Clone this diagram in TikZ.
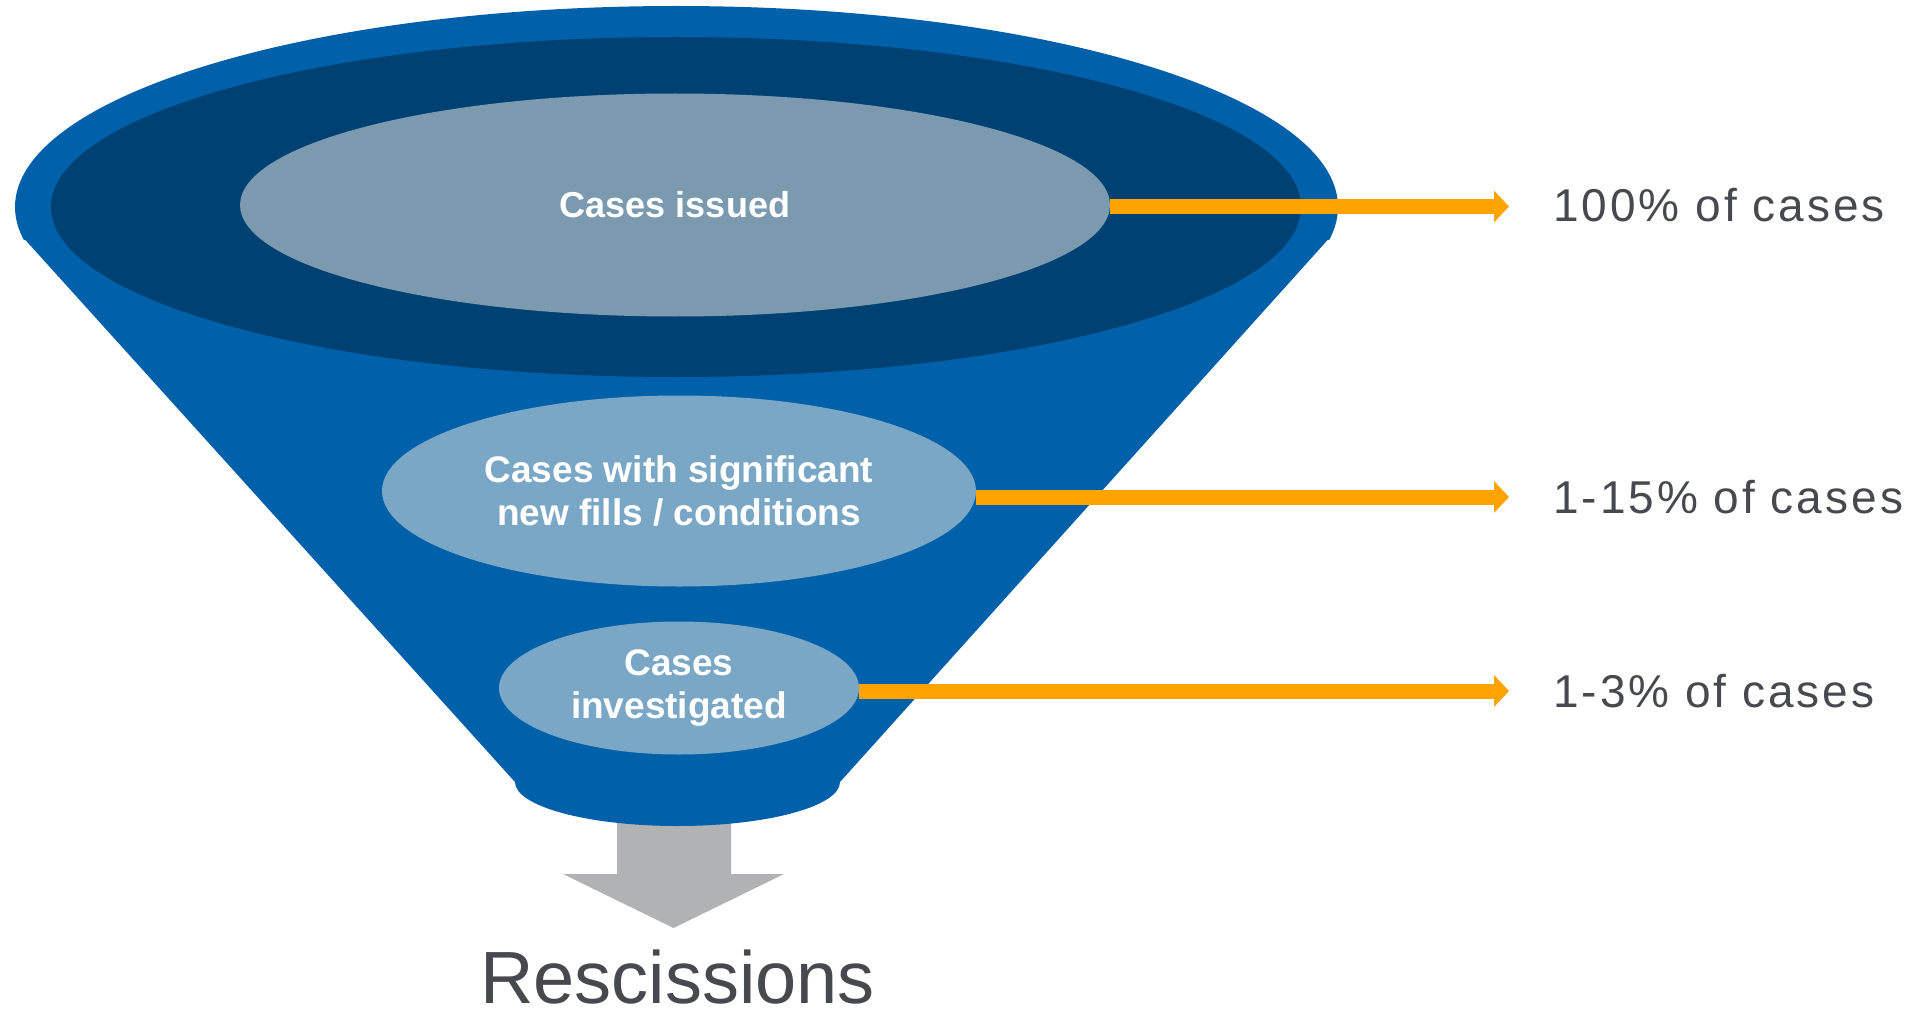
\documentclass[tikz,border=0pt]{standalone}
\usepackage{fontspec}
\setmainfont{Liberation Sans}
\newfontfamily\labelfont[LetterSpace=6.5]{Liberation Sans}
\usetikzlibrary{shapes.geometric,arrows.meta}
\definecolor{funnelblue}{HTML}{0060AA}
\definecolor{darkblue}{HTML}{004174}
\definecolor{grayblue}{HTML}{7B9AB0}
\definecolor{lightblue}{HTML}{7BA7C7}
\definecolor{arroworange}{HTML}{FFA300}
\definecolor{arrowgray}{HTML}{B1B2B4}
\definecolor{textgray}{HTML}{46494E}
\tikzset{
  stage/.style={ellipse, inner sep=0pt, outer sep=0pt, text=white, align=center,
    font=\fontsize{37}{42.5}\selectfont\bfseries},
  pct/.style={anchor=base west, inner sep=0pt, text=textgray,
    font=\labelfont\fontsize{46}{50}\selectfont},
  orangearrow/.style={draw=arroworange, line width=15pt,
    -{Triangle[length=15pt,width=31pt]}}
}
\begin{document}
\begin{tikzpicture}[x=1pt,y=-1pt]
\useasboundingbox (0,0) rectangle (1921,1011);
% gray output arrow (behind funnel)
\fill[arrowgray] (617,790) -- (617,874) -- (563,874) -- (673.5,928) -- (784,874) -- (731,874) -- (731,790) -- cycle;
% funnel body
\fill[funnelblue] (24.5,239) -- (515,782) -- (840,782) -- (1328.5,239) -- cycle;
\begin{scope}
  \clip (0,0) rectangle (1921,239.5);
  \fill[funnelblue] (676.5,207) ellipse [x radius=661.5, y radius=201];
\end{scope}
\fill[funnelblue] (677.5,782) ellipse [x radius=162.5, y radius=44];
\fill[darkblue] (676,207) ellipse [x radius=625, y radius=170];
% stages
\node[stage, fill=grayblue, minimum width=870pt, minimum height=223pt, font=\fontsize{36}{42.5}\selectfont\bfseries] (e1) at (675,205) {Cases issued};
\node[stage, fill=lightblue, minimum width=594pt, minimum height=191pt] (e2) at (679,491) {Cases with significant\\new fills / conditions};
\node[stage, fill=lightblue, minimum width=360pt, minimum height=133pt] (e3) at (679,688) {Cases\\investigated};
% labels
\node[pct] (l1) at (1553,222) {100\% of cases};
\node[pct] (l2) at (1553,513) {1-15\% of cases};
\node[pct] (l3) at (1553,707) {1-3\% of cases};
\node[anchor=base, inner sep=0pt, text=textgray, font=\fontsize{74}{80}\selectfont] (res) at (677.5,1003) {Rescissions};
% arrow tips
\coordinate (t1) at (1509,206.5);
\coordinate (t2) at (1509,497);
\coordinate (t3) at (1509,691);
\draw[orangearrow] (e1.east |- t1) -- (t1);
\draw[orangearrow] (e2.east |- t2) -- (t2);
\draw[orangearrow] (e3.east |- t3) -- (t3);
\end{tikzpicture}
\end{document}
